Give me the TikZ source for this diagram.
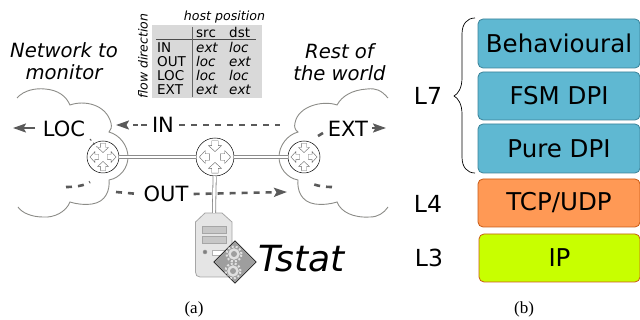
\documentclass[tikz,border=0pt]{standalone}
\usepackage{fontspec}
\setmainfont{DejaVu Sans}
\newfontfamily\capfont{Liberation Serif}
\usetikzlibrary{arrows.meta}
\definecolor{cloudc}{HTML}{8C8C88}
\definecolor{flowc}{HTML}{5A5A5A}
\definecolor{bluefill}{HTML}{5FB8D2}
\definecolor{blueedge}{HTML}{3C8298}
\definecolor{orangefill}{HTML}{FF9955}
\definecolor{orangeedge}{HTML}{C85A14}
\definecolor{limefill}{HTML}{C8FF00}
\tikzset{
  x=1pt,y=-1pt,
  cloudline/.style={draw=cloudc,line width=0.9pt},
  linkline/.style={draw=black!45,double=white,line width=0.8pt,double distance=2.4pt},
  flow/.style={draw=flowc,line width=2.6pt,dash pattern=on 6pt off 6pt},
  flowsolid/.style={draw=flowc,line width=2.6pt},
  flowhead/.style={-{Stealth[length=13pt,width=9pt,inset=2.5pt]},draw=flowc,line width=2pt},
  routerbig/.style={circle,draw=black,line width=0.5pt,fill=white,minimum size=38pt,inner sep=0pt},
  routersmall/.style={circle,draw=black,line width=0.5pt,fill=white,minimum size=32pt,inner sep=0pt},
  lab/.style={font=\fontsize{21}{21}\selectfont,inner sep=5pt,text=black},
  head/.style={font=\fontsize{19.6}{21.5}\selectfont\itshape,align=center,inner sep=0pt},
  layer/.style={rounded corners=5pt,line width=0.8pt,inner sep=0pt,font=\fontsize{24.5}{24.5}\selectfont,minimum width=162pt},
  lv/.style={font=\fontsize{23.5}{23.5}\selectfont,inner sep=0pt},
  tt/.style={font=\fontsize{13.5}{13.5}\selectfont,inner sep=0pt,anchor=base west},
  ti/.style={tt,font=\fontsize{13.5}{13.5}\selectfont\itshape},
  capt/.style={font=\capfont\fontsize{17}{17}\selectfont,inner sep=0pt},
  ico/.style={draw=black!60,fill=white,line width=0.4pt},
}
\newcommand{\routericon}[2]{%
  \begin{scope}[shift={(#1)},scale=#2]
    \foreach \a/\f in {90/-1,270/-1,0/1,180/1}{
      \begin{scope}[rotate=\a]
        \ifnum\f=1
          \draw[ico] (5,-3) -- (9,-3) -- (9,-6) -- (14.5,0) -- (9,6) -- (9,3) -- (5,3) -- cycle;
        \else
          \draw[ico] (15,-3) -- (10.5,-3) -- (10.5,-6) -- (5,0) -- (10.5,6) -- (10.5,3) -- (15,3) -- cycle;
        \fi
      \end{scope}
    }
  \end{scope}}
\begin{document}
\begin{tikzpicture}
\useasboundingbox (0,0) rectangle (640,320);

% clouds
\path[cloudline] (17,98) .. controls (24,90) and (36,88) .. (45,89)
  .. controls (58,90) and (66,96) .. (70,105)
  .. controls (84,100) and (106,104) .. (111,123)
  .. controls (112,127) and (111,130) .. (109,132)
  .. controls (120,135) and (128,146) .. (128,157)
  .. controls (128,168) and (120,178) .. (109,180)
  .. controls (110,190) and (106,202) .. (92,204)
  .. controls (84,205) and (76,204) .. (70,202)
  .. controls (66,212) and (54,218) .. (43,217)
  .. controls (32,217) and (22,213) .. (18,207);
\path[cloudline] (388,98) .. controls (381,90) and (376,88) .. (367,89)
  .. controls (352,90) and (342,96) .. (337,105)
  .. controls (323,100) and (298,106) .. (295,123)
  .. controls (294,127) and (295,130) .. (298,132)
  .. controls (287,135) and (279,146) .. (279,157)
  .. controls (279,168) and (287,178) .. (298,180)
  .. controls (297,190) and (301,202) .. (315,204)
  .. controls (323,205) and (331,204) .. (337,202)
  .. controls (341,212) and (353,218) .. (370,217)
  .. controls (378,217) and (384,213) .. (388,207);

% routers
\node[routersmall] (rl) at (103,157) {};
\node[routerbig] (rm) at (215,157) {};
\node[routersmall] (rr) at (304,157) {};
\routericon{103,157}{0.9}
\routericon{215,157}{1.08}
\routericon{304,157}{0.9}

% server
\path[fill=black!10,draw=black!35,line width=0.8pt] (205,213) -- (222,213) -- (232,222) -- (232,272) .. controls (232,275) and (231,277) .. (228,277) -- (200,277) .. controls (197,277) and (195.5,275) .. (195.5,272) -- (195.5,222) -- cycle;
\node[minimum width=36pt,minimum height=64pt,inner sep=0pt] (srv) at (214,245) {};
\draw[fill=black!22,draw=black!35,line width=0.5pt] (202,226) rectangle (226,233);
\draw[fill=black!22,draw=black!35,line width=0.5pt] (202,236) rectangle (226,243);
\draw[fill=black!50,draw=black!40] (205,252) circle (2pt);
\draw[fill=white,draw=black!30,line width=0.4pt] (212,250) rectangle (226,255);
\draw[linkline] (rl) -- (rm);
\draw[linkline] (rm) -- (rr);
\draw[linkline] (rm) -- (srv.north);

% plugin diamond
\node[draw=black,line width=0.6pt,fill=black!38,minimum size=30pt,inner sep=0pt,rotate=45] (dia) at (235,262) {};
\begin{scope}
  \clip (235,241) -- (256,262) -- (235,283) -- (214,262) -- cycle;
  \draw[black!12,fill=black!12] (234,254) circle (5.5pt);
  \draw[black!12,line width=2pt,dash pattern=on 2pt off 2pt] (234,254) circle (7.5pt);
  \draw[black!12,fill=black!12] (233,271) circle (5.5pt);
  \draw[black!12,line width=2pt,dash pattern=on 2pt off 2pt] (233,271) circle (7.5pt);
  \fill[black!38] (234,254) circle (3pt);
  \fill[black!38] (233,271) circle (3pt);
\end{scope}

% labels on network
\node[lab] (loc) at (64,129) {LOC};
\node[lab] (in) at (163,125) {IN};
\node[lab] (ext) at (348,129) {EXT};
\node[lab] (out) at (166,194) {OUT};

% flows
\coordinate (a1) at (13,128);
\coordinate (a2) at (35,128);
\draw[flowhead] (a2) -- (a1);
\coordinate (b1) at (280,125);
\coordinate (b2) at (116,125);
\draw[flow] (in.east) -- (b1);
\draw[flowhead,dash pattern=on 6pt off 3pt on 5pt off 40pt] (in.west) -- (b2);
\coordinate (c1) at (116,192);
\coordinate (c2) at (287,192);
\draw[flow] (c1) -- (out.west);
\draw[flow,-{Stealth[length=13pt,width=9pt,inset=2.5pt]}] (out.east) -- (c2);
\coordinate (d1) at (66,187);
\coordinate (d2) at (90,182);
\draw[flow] (d1) .. controls (74,187) and (84,186) .. (d2);
\coordinate (e1) at (90,139);
\coordinate (e2) at (97,147);
\draw[draw=flowc,line width=1pt,dash pattern=on 2pt off 3pt] (e1) -- (e2);
\coordinate (f1) at (332,187);
\coordinate (f2) at (309,182);
\draw[flow] (f1) .. controls (325,187) and (315,186) .. (f2);
\coordinate (g1) at (318,136);
\coordinate (g2) at (323,133);
\draw[flowsolid] (g1) -- (g2);
\coordinate (h1) at (372,128);
\coordinate (h2) at (386,128);
\draw[flowhead] (h1) -- (h2);

% headings
\node[head] (h_net) at (64,61) {Network to\\monitor};
\node[head] (h_rest) at (339.5,62) {Rest of\\the world};
\node[font=\fontsize{36}{36}\selectfont\itshape,inner sep=0pt,anchor=base west] (tstat) at (258,272) {Tstat};

% table
\fill[black!15] (152,25) rectangle (262,98);
\node[font=\fontsize{12.6}{12.6}\selectfont\itshape,inner sep=0pt] (hp) at (224.5,17) {host position};
\node[font=\fontsize{12.5}{12.5}\selectfont\itshape,inner sep=0pt,rotate=90] (fd) at (143,56) {flow direction};
\draw[black!70,line width=1pt] (156,40) -- (256,40);
\draw[black!60,line width=1pt] (192,27) -- (192,97);
\node[tt] at (196,38) {src};
\node[tt] at (229,38) {dst};
\node[tt] at (157,53) {IN};
\node[tt] at (157,67) {OUT};
\node[tt] at (157,81) {LOC};
\node[tt] at (157,95) {EXT};
\node[ti] at (196,53) {ext}; \node[ti] at (229,53) {loc};
\node[ti] at (196,67) {loc}; \node[ti] at (229,67) {ext};
\node[ti] at (196,81) {loc}; \node[ti] at (229,81) {loc};
\node[ti] at (196,95) {ext}; \node[ti] at (229,95) {ext};

% layers
\node[layer,draw=blueedge,fill=bluefill,minimum height=49pt] (beh) at (559,43.5) {Behavioural};
\node[layer,draw=blueedge,fill=bluefill,minimum height=48pt] (fsm) at (559,96) {FSM DPI};
\node[layer,draw=blueedge,fill=bluefill,minimum height=49pt] (pure) at (559,148.5) {Pure DPI};
\node[layer,draw=orangeedge,fill=orangefill,minimum height=48pt] (tcp) at (559,203) {TCP/UDP};
\node[layer,draw=orangeedge,fill=limefill,minimum width=161pt,minimum height=48pt] (ip) at (559.5,258) {IP};
\node[lv] (l7) at (428,96) {L7};
\node[lv] (l4) at (428,204) {L4};
\node[lv] (l3) at (429,258) {L3};
\coordinate (bt) at (475,18);
\coordinate (bb) at (475,173);
\coordinate (bm) at (454,96);
\draw[black,line width=0.7pt] (bt) .. controls (467,18) and (462,24) .. (462,34) -- (462,78)
  .. controls (462,88) and (458,94) .. (bm) .. controls (458,98) and (462,104) .. (462,114) -- (462,157)
  .. controls (462,167) and (467,173) .. (bb);

% captions
\node[capt] (ca) at (194,309) {(a)};
\node[capt] (cb) at (524,309) {(b)};
\end{tikzpicture}
\end{document}
